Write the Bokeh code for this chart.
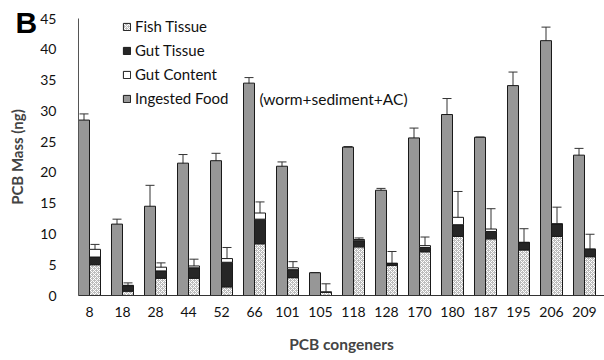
from bokeh.plotting import figure
from bokeh.models import (ColumnDataSource, Range1d, FixedTicker, Whisker, TeeHead,
                          Legend, LegendItem, Label, Title)
from bokeh.embed import file_html
from bokeh.resources import INLINE

congeners = ["8", "18", "28", "44", "52", "66", "101", "105", "118", "128",
             "170", "180", "187", "195", "206", "209"]
ingested = [28.5, 11.6, 14.5, 21.5, 21.9, 34.5, 21.0, 3.7, 24.1, 17.1,
            25.6, 29.4, 25.7, 34.1, 41.4, 22.8]
ingested_err = [1.0, 0.8, 3.4, 1.4, 1.2, 0.9, 0.7, 0.0, 0.1, 0.3,
                1.6, 2.6, 0.05, 2.2, 2.2, 1.1]
fish_tissue = [5.0, 0.7, 2.8, 2.8, 1.4, 8.4, 2.9, 0.5, 7.9, 4.9,
               7.1, 9.6, 9.2, 7.4, 9.6, 6.3]
gut_tissue = [1.25, 0.9, 1.2, 1.7, 4.0, 4.0, 1.3, 0.0, 1.0, 0.3,
              0.7, 1.9, 1.2, 1.2, 2.0, 1.2]
gut_content = [1.25, 0.05, 0.6, 0.3, 0.6, 1.0, 0.3, 0.1, 0.2, 0.05,
               0.3, 1.2, 0.4, 0.05, 0.05, 0.05]
stack_err = [0.8, 0.4, 0.7, 1.1, 1.8, 1.8, 1.0, 1.3, 0.25, 1.9,
             1.4, 4.2, 3.3, 2.2, 2.7, 2.4]

FONT = "Lato"
n = len(congeners)
xs = list(range(n))
x_food = [i - 1/6 for i in xs]
x_stack = [i + 1/6 for i in xs]
ft_top = fish_tissue
gt_top = [a + b for a, b in zip(fish_tissue, gut_tissue)]
gc_top = [a + b + c for a, b, c in zip(fish_tissue, gut_tissue, gut_content)]

src = ColumnDataSource(dict(
    x_food=x_food, x_stack=x_stack, food=ingested,
    food_lo=[v - e for v, e in zip(ingested, ingested_err)],
    food_hi=[v + e for v, e in zip(ingested, ingested_err)],
    ft_top=ft_top, gt_top=gt_top, gc_top=gc_top,
    st_lo=[v - e for v, e in zip(gc_top, stack_err)],
    st_hi=[v + e for v, e in zip(gc_top, stack_err)],
))

p = figure(width=604, height=360, output_backend="svg", toolbar_location=None,
           x_range=Range1d(-1/3, 15.606), y_range=Range1d(0, 45),
           min_border_left=78, min_border_right=0, min_border_top=18,
           min_border_bottom=65)
p.outline_line_color = None
p.xgrid.visible = False
p.ygrid.visible = False
p.background_fill_color = "white"

# panel letter as a title placed into the top border
t = Title(text="B", align="left", text_font="Liberation Sans", text_font_style="bold",
          text_font_size="30px", text_color="black", vertical_align="bottom")
try:
    t.standoff = -40
    t.offset = -63
except Exception:
    pass
p.add_layout(t, "above")

W = 1/3
r_food = p.vbar(x="x_food", width=W, bottom=0, top="food", source=src,
                fill_color="#979797", line_color="#1a1a1a", line_width=1)
r_ft = p.vbar(x="x_stack", width=W, bottom=0, top="ft_top", source=src,
              fill_color="#bdbdbd", line_color="#1a1a1a", line_width=1,
              hatch_pattern="x", hatch_color="white", hatch_scale=4, hatch_weight=1)
r_gt = p.vbar(x="x_stack", width=W, bottom="ft_top", top="gt_top", source=src,
              fill_color="#262626", line_color="#1a1a1a", line_width=1)
r_gc = p.vbar(x="x_stack", width=W, bottom="gt_top", top="gc_top", source=src,
              fill_color="white", line_color="#1a1a1a", line_width=1)

for base, lo, hi in (("x_food", "food_lo", "food_hi"), ("x_stack", "st_lo", "st_hi")):
    w = Whisker(source=src, base=base, lower=lo, upper=hi, line_color="#333333",
                line_width=1,
                upper_head=TeeHead(size=9, line_color="#333333", line_width=1),
                lower_head=TeeHead(size=9, line_color="#333333", line_width=1))
    p.add_layout(w)

# axes
p.xaxis.ticker = FixedTicker(ticks=xs)
p.xaxis.major_label_overrides = {i: c for i, c in enumerate(congeners)}
p.xaxis.major_tick_line_color = None
p.xaxis.minor_tick_line_color = None
p.xaxis.axis_line_color = "#333333"
p.xaxis.major_label_standoff = 5
p.xaxis.major_label_text_font = FONT
p.xaxis.major_label_text_font_size = "14px"
p.xaxis.major_label_text_color = "#111111"
p.xaxis.axis_label = "PCB congeners"
p.xaxis.axis_label_text_font = FONT
p.xaxis.axis_label_text_font_style = "bold"
p.xaxis.axis_label_text_font_size = "15.5px"
p.xaxis.axis_label_standoff = 15

p.yaxis.ticker = FixedTicker(ticks=list(range(0, 46, 5)))
p.yaxis.major_tick_line_color = None
p.yaxis.minor_tick_line_color = None
p.yaxis.axis_line_color = "#555555"
p.yaxis.major_label_standoff = 16
p.yaxis.major_label_text_font = FONT
p.yaxis.major_label_text_font_size = "14px"
p.yaxis.major_label_text_color = "#111111"
p.yaxis.axis_label = "PCB Mass (ng)"
p.yaxis.axis_label_text_font = FONT
p.yaxis.axis_label_text_font_style = "bold"
p.yaxis.axis_label_text_font_size = "15px"
p.yaxis.axis_label_standoff = 11

legend = Legend(items=[
    LegendItem(label="Fish Tissue", renderers=[r_ft]),
    LegendItem(label="Gut Tissue", renderers=[r_gt]),
    LegendItem(label="Gut Content", renderers=[r_gc]),
    LegendItem(label="Ingested Food", renderers=[r_food]),
], location=(44, 188), orientation="vertical", padding=0, margin=0,
    border_line_color=None, background_fill_alpha=0,
    glyph_width=9, glyph_height=9, label_standoff=4, label_height=16, spacing=6,
    label_text_font=FONT, label_text_font_size="15px", label_text_color="#111111")
p.add_layout(legend)

p.add_layout(Label(x=5.15, y=32.0, text="(worm+sediment+AC)", text_font=FONT,
                   text_font_size="15.5px", text_baseline="middle", text_color="#111111"))

open("out.html", "w").write(file_html(p, INLINE))
